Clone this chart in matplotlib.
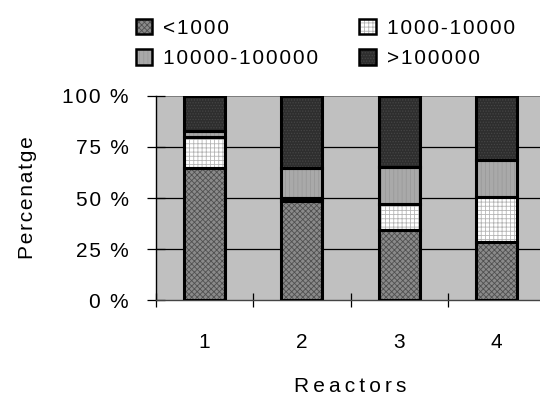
import numpy as np
import matplotlib.pyplot as plt
from matplotlib.patches import Patch

plt.rcParams['font.family'] = ['Liberation Sans', 'DejaVu Sans']
plt.rcParams['hatch.linewidth'] = 0.6

# Porcentaje de cada rango por reactor
reactores = [1, 2, 3, 4]
rangos = ['<1000', '1000-10000', '10000-100000', '>100000']
menor_1000 = [64.6, 48.5, 34.3, 28.6]
r_1000_10000 = [15.5, 1.5, 12.7, 22.0]
r_10000_100000 = [2.5, 14.5, 18.3, 18.0]
mayor_100000 = [17.4, 35.5, 34.7, 31.4]
marcas_y = [0, 25, 50, 75, 100]

series = [menor_1000, r_1000_10000, r_10000_100000, mayor_100000]
relleno = ['#8a8a8a', '#ffffff', '#a9a9a9', '#2e2e2e']
trama = ['#505050', '#b5b5b5', '#9a9a9a', '#454545']
patron = ['xxxxxx', '++++', '||||', '......']


def espaciar(texto, sep='\u200a'):
    # separa las letras con un espacio fino
    return sep.join(texto)


fig = plt.figure(figsize=(5.4, 3.97), dpi=100)
ax = fig.add_axes([0.2889, 0.2443, 0.7204, 0.5139])
ax.set_facecolor('#c0c0c0')

x = np.array(reactores)
ancho = 0.42
base = np.zeros(len(x))
for vals, fc, hc, pat in zip(series, relleno, trama, patron):
    ax.bar(x, vals, ancho, bottom=base, color=fc, edgecolor=hc,
           hatch=pat, linewidth=0, zorder=3)
    ax.bar(x, vals, ancho, bottom=base, fill=False, edgecolor='black',
           linewidth=2.2, zorder=4)
    base += np.array(vals)

ax.set_xlim(0.5, 4.5)
ax.set_ylim(0, 100)
ax.set_yticks(marcas_y)
ax.set_yticklabels([espaciar(f'{v} %') for v in marcas_y], fontsize=15)
ax.set_xticks(x)
ax.set_xticklabels([str(r) for r in reactores], fontsize=15)
ax.set_xticks([0.5, 1.5, 2.5, 3.5], minor=True)
ax.tick_params(axis='x', which='major', length=0, pad=24)
ax.tick_params(axis='x', which='minor', direction='inout', length=10,
               width=0.9, color='black')
ax.tick_params(axis='y', direction='inout', length=13, width=0.9, pad=13)

for v in [25, 50, 75]:
    ax.axhline(v, color='black', linewidth=0.9, zorder=1)
ax.axhline(100, color='#707070', linewidth=1.2, zorder=1)

for s in ['top', 'right']:
    ax.spines[s].set_visible(False)
ax.spines['left'].set_color('black')
ax.spines['left'].set_linewidth(1.0)
ax.spines['bottom'].set_color('#444444')
ax.spines['bottom'].set_linewidth(1.0)

ax.set_xlabel(espaciar('Reactors', '\u2009'), fontsize=15)
ax.xaxis.set_label_coords(0.5, -0.375)
ax.set_ylabel(espaciar('Percenatge'), fontsize=15)
ax.yaxis.set_label_coords(-0.305, 0.5)

# leyenda en dos columnas sobre el gráfico
handles = [(Patch(facecolor=fc, edgecolor=hc, hatch=pat, linewidth=0),
            Patch(fill=False, edgecolor='black', linewidth=1.8))
           for fc, hc, pat in zip(relleno, trama, patron)]
orden = [0, 2, 1, 3]
fig.legend([handles[i] for i in orden], [espaciar(rangos[i]) for i in orden],
           ncol=2, frameon=False, fontsize=15, loc='upper left',
           bbox_to_anchor=(0.224, 0.99), handlelength=0.8, handleheight=0.8,
           handletextpad=0.5, columnspacing=2.0, labelspacing=0.55,
           borderpad=0.2)

fig.savefig('out.png', dpi=100)
